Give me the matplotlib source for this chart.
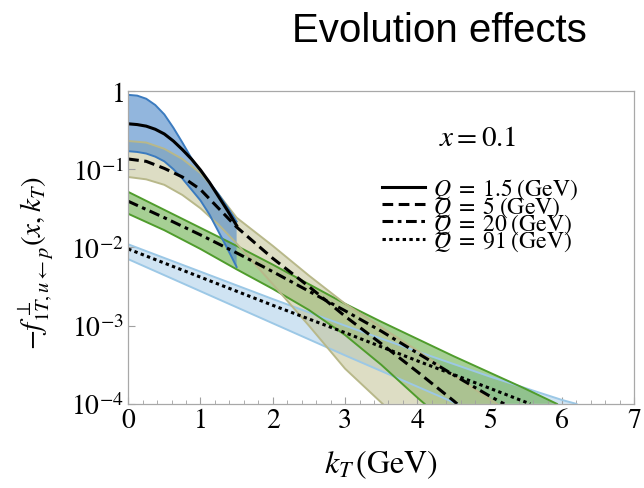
import numpy as np
import matplotlib
matplotlib.use("Agg")
import matplotlib.pyplot as plt
from matplotlib.ticker import FixedLocator, NullLocator

# values, stored as log10 of the TMD value
kt_q1 = [0.0, 0.125, 0.25, 0.375, 0.5, 0.625, 0.75, 0.875, 1.0, 1.125, 1.25, 1.375, 1.5]
q1_up = [-0.05, -0.06, -0.10, -0.18, -0.30, -0.47, -0.66, -0.86, -1.02, -1.17, -1.32, -1.49, -1.67]
q1_mid = [-0.42, -0.43, -0.45, -0.49, -0.55, -0.64, -0.75, -0.87, -1.01, -1.17, -1.35, -1.53, -1.72]
q1_lo = [-0.77, -0.78, -0.80, -0.84, -0.90, -1.00, -1.12, -1.26, -1.40, -1.58, -1.80, -2.02, -2.25]

kt_q5_up = [0.0, 0.25, 0.5, 0.75, 1.0, 1.25, 1.5, 2.0, 2.5, 3.0, 3.5, 4.0, 4.5, 5.0, 5.1]
q5_up = [-0.64, -0.66, -0.74, -0.87, -1.05, -1.32, -1.62, -1.98, -2.36, -2.72, -3.02, -3.32, -3.63, -3.94, -4.0]
kt_q5_mid = [0.0, 0.25, 0.5, 0.75, 1.0, 1.25, 1.5, 2.0, 2.5, 3.0, 3.5, 4.0, 4.5, 4.55]
q5_mid = [-0.87, -0.90, -0.99, -1.10, -1.26, -1.50, -1.74, -2.14, -2.50, -2.88, -3.23, -3.59, -3.96, -4.0]
kt_q5_lo = [0.0, 0.25, 0.5, 0.75, 1.0, 1.25, 1.5, 2.0, 2.5, 3.0, 3.52]
q5_lo = [-1.10, -1.13, -1.20, -1.33, -1.50, -1.71, -1.95, -2.47, -3.00, -3.55, -4.0]

kt_q20_up = [0.0, 0.5, 1.0, 1.5, 2.0, 2.5, 3.0, 3.5, 4.0, 4.5, 5.0, 5.5, 5.93]
q20_up = [-1.29, -1.52, -1.75, -1.98, -2.22, -2.47, -2.72, -2.95, -3.17, -3.39, -3.60, -3.81, -4.0]
kt_q20_mid = [0.0, 0.5, 1.0, 1.5, 2.0, 2.5, 3.0, 3.5, 4.0, 4.5, 5.0, 5.2]
q20_mid = [-1.41, -1.62, -1.84, -2.07, -2.31, -2.56, -2.81, -3.07, -3.35, -3.63, -3.90, -4.0]
kt_q20_lo = [0.0, 0.5, 1.0, 1.5, 2.0, 2.5, 3.0, 3.5, 4.0, 4.1]
q20_lo = [-1.57, -1.78, -2.02, -2.28, -2.53, -2.80, -3.12, -3.50, -3.92, -4.0]

kt_q91_up = [0.0, 1.0, 2.0, 3.0, 4.0, 5.0, 6.0, 6.2]
q91_up = [-1.96, -2.31, -2.66, -3.00, -3.33, -3.65, -3.95, -4.0]
kt_q91_mid = [0.0, 1.0, 2.0, 3.0, 4.0, 5.0, 5.56]
q91_mid = [-2.02, -2.38, -2.74, -3.09, -3.45, -3.80, -4.0]
kt_q91_lo = [0.0, 1.0, 2.0, 3.0, 4.0, 4.55]
q91_lo = [-2.15, -2.56, -2.97, -3.38, -3.78, -4.0]

legend_labels = [r"$Q\;=\;1.5\;(\mathrm{GeV})$", r"$Q\;=\;5\;(\mathrm{GeV})$",
                 r"$Q\;=\;20\;(\mathrm{GeV})$", r"$Q\;=\;91\;(\mathrm{GeV})$"]

plt.rcParams["mathtext.fontset"] = "stix"
plt.rcParams["font.family"] = ["STIXGeneral", "DejaVu Serif"]

fig = plt.figure(figsize=(6.44, 4.89), dpi=100)
ax = fig.add_axes([0.199, 0.172, 0.786, 0.640])


def band(kt_up, up, kt_lo, lo, fill, edge, alpha):
    xu = np.array(kt_up)
    xl = np.array(kt_lo)
    yu = 10.0 ** np.array(up)
    yl = 10.0 ** np.array(lo)
    ax.fill(np.concatenate([xu, xl[::-1]]), np.concatenate([yu, yl[::-1]]),
            color=fill, alpha=alpha, lw=0)
    ax.plot(xu, yu, color=edge, lw=1.4)
    ax.plot(xl, yl, color=edge, lw=1.4)


band(kt_q91_up, q91_up, kt_q91_lo, q91_lo, "#a8cde8", "#9cc8e6", 0.55)
band(kt_q20_up, q20_up, kt_q20_lo, q20_lo, "#5ea83c", "#4f9c2c", 0.55)
band(kt_q5_up, q5_up, kt_q5_lo, q5_lo, "#c2c294", "#b8b88a", 0.55)
band(kt_q1, q1_up, kt_q1, q1_lo, "#5089c8", "#3b7bbf", 0.62)

lines = []
lines += ax.plot(kt_q1, 10.0 ** np.array(q1_mid), color="black", lw=2.2, ls="-")
lines += ax.plot(kt_q5_mid, 10.0 ** np.array(q5_mid), color="black", lw=2.2, ls=(0, (3.5, 1.8)))
lines += ax.plot(kt_q20_mid, 10.0 ** np.array(q20_mid), color="black", lw=2.2,
                 ls=(0, (3.5, 1.5, 1.2, 1.5)))
lines += ax.plot(kt_q91_mid, 10.0 ** np.array(q91_mid), color="black", lw=2.2, ls=(0, (1.1, 1.1)))

ax.set_xlim(0, 7)
ax.set_yscale("log")
ax.set_ylim(1e-4, 1)
ax.xaxis.set_major_locator(FixedLocator(range(0, 8)))
ax.xaxis.set_minor_locator(FixedLocator(np.arange(0, 7.01, 0.2)))
ax.set_yticks([1e-4, 1e-3, 1e-2, 1e-1, 1])
ax.set_yticklabels([r"$10^{-4}$", r"$10^{-3}$", r"$10^{-2}$", r"$10^{-1}$", r"$1$"])
ax.yaxis.set_minor_locator(NullLocator())

for s in ax.spines.values():
    s.set_color("#a8a8a8")
    s.set_linewidth(0.9)
ax.tick_params(which="both", direction="in", color="#a0a0a0", labelsize=20,
               top=False, right=False)
ax.tick_params(which="major", length=5)
ax.tick_params(which="minor", length=3)
ax.tick_params(axis="x", pad=3)
ax.tick_params(axis="y", pad=3)

ax.set_xlabel(r"$k_T\,(\mathrm{GeV})$", fontsize=23, labelpad=10)
fig.text(0.054, 0.462, r"$-f_{1T,u\leftarrow p}^{\perp}(x,k_T)$", fontsize=21,
         rotation=90, ha="center", va="center")

ax.text(0.69, 0.847, r"$x = 0.1$", transform=ax.transAxes, fontsize=21,
        ha="center", va="center")
ax.legend(lines, legend_labels, loc="upper left", bbox_to_anchor=(0.502, 0.726),
          frameon=False, fontsize=17, handlelength=1.82, handletextpad=0.34,
          labelspacing=-0.30, borderaxespad=0, borderpad=0)

fig.text(0.682, 0.937, "Evolution effects", fontsize=29, ha="center", va="center",
         family="Liberation Sans")

fig.savefig("out.png", dpi=100)
